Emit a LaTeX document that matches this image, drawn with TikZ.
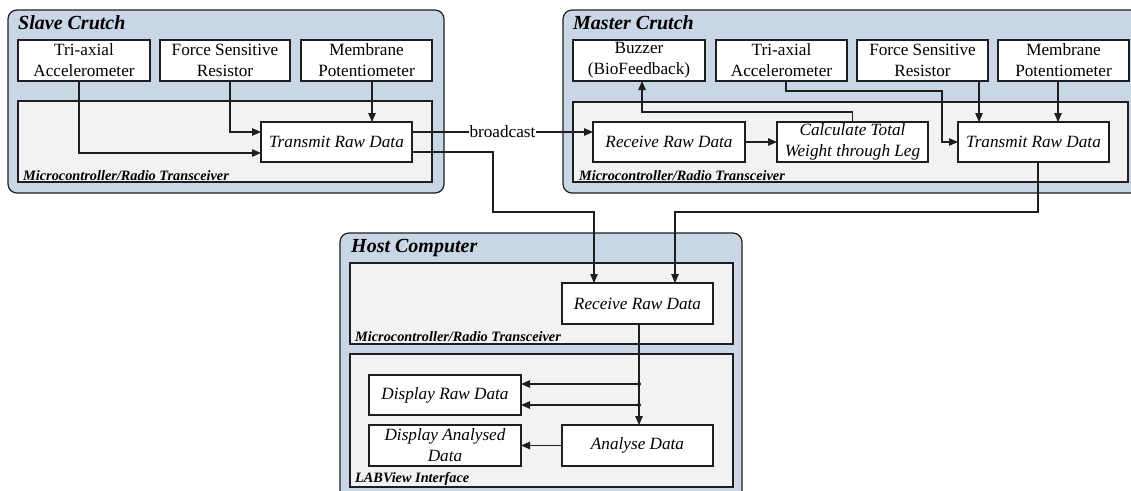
\documentclass[tikz,border=0pt]{standalone}
\usepackage{fontspec}
\setmainfont{Liberation Serif}
\usetikzlibrary{arrows.meta,calc}
\definecolor{outerblue}{RGB}{201,214,230}
\definecolor{innergray}{RGB}{242,242,242}
\definecolor{ln}{RGB}{30,30,30}
\tikzset{
 outerbox/.style={draw=ln, line width=1.2pt, rounded corners=9pt, fill=outerblue, anchor=north west, inner sep=0pt, outer sep=0pt},
 innerbox/.style={draw=ln, line width=1.1pt, fill=innergray, anchor=north west, inner sep=0pt, outer sep=0pt},
 blk/.style={draw=ln, line width=1.1pt, fill=white, anchor=north west, inner sep=0pt, outer sep=0pt, align=center, font=\fontsize{17.2}{21}\selectfont},
 blki/.style={blk, font=\fontsize{17.2}{21}\selectfont\itshape},
 grptitle/.style={anchor=base west, inner sep=0pt, font=\fontsize{20}{24}\selectfont\bfseries\itshape},
 sublabel/.style={anchor=base west, inner sep=0pt, font=\fontsize{14.3}{16}\selectfont\bfseries\itshape},
 arr/.style={draw=ln, line width=1.1pt, -{Triangle[length=9pt,width=7.5pt]}},
 wire/.style={draw=ln, line width=1.1pt},
}
\begin{document}
\begin{tikzpicture}[x=1pt,y=-1pt]
\useasboundingbox (0,0) rectangle (1131,490);
\clip (0,0) rectangle (1131,490);
% ---------- Slave Crutch ----------
\node[outerbox, minimum width=436pt, minimum height=183pt] (slave) at (8,10) {};
\node[grptitle] (slavet) at (18,29) {Slave Crutch};
\node[blk, minimum width=132pt, minimum height=41pt] (stri) at (18,40) {Tri-axial\\Accelerometer};
\node[blk, minimum width=130pt, minimum height=41pt] (sforce) at (160,40) {Force Sensitive\\Resistor};
\node[blk, minimum width=131pt, minimum height=41pt] (smem) at (301,40) {Membrane\\Potentiometer};
\node[innerbox, minimum width=414pt, minimum height=81pt] (smicro) at (18,101) {};
\node[sublabel] (smicrot) at (23,180) {Microcontroller/Radio Transceiver};
\node[blki, minimum width=151pt, minimum height=40pt] (stx) at (261,122) {Transmit Raw Data};
% ---------- Master Crutch ----------
\node[outerbox, minimum width=580pt, minimum height=183pt] (master) at (563,10) {};
\node[grptitle] (mastert) at (573,29) {Master Crutch};
\node[blk, minimum width=132pt, minimum height=41pt] (mbuz) at (573,40) {Buzzer\\(BioFeedback)};
\node[blk, minimum width=131pt, minimum height=41pt] (mtri) at (716,40) {Tri-axial\\Accelerometer};
\node[blk, minimum width=131pt, minimum height=41pt] (mforce) at (857,40) {Force Sensitive\\Resistor};
\node[blk, minimum width=131pt, minimum height=41pt] (mmem) at (998,40) {Membrane\\Potentiometer};
\node[innerbox, minimum width=555pt, minimum height=80pt] (mmicro) at (573,102) {};
\node[sublabel] (mmicrot) at (579,180) {Microcontroller/Radio Transceiver};
\node[blki, minimum width=152pt, minimum height=40pt] (mrx) at (593,122) {Receive Raw Data};
\node[blki, minimum width=151pt, minimum height=40pt] (mcalc) at (777,122) {Calculate Total\\Weight through Leg};
\node[blki, minimum width=151pt, minimum height=40pt] (mtx) at (958,122) {Transmit Raw Data};
% ---------- Host Computer ----------
\node[outerbox, minimum width=402pt, minimum height=270pt] (host) at (340,233) {};
\node[grptitle] (hostt) at (351,252) {Host Computer};
\node[innerbox, minimum width=383pt, minimum height=81pt] (hmicro) at (350,263) {};
\node[sublabel] (hmicrot) at (355,341) {Microcontroller/Radio Transceiver};
\node[innerbox, minimum width=383pt, minimum height=133pt] (hlab) at (350,354) {};
\node[sublabel] (hlabt) at (355,482) {LABView Interface};
\node[blki, minimum width=151pt, minimum height=41pt] (hrx) at (562,283) {Receive Raw Data};
\node[blki, minimum width=152pt, minimum height=40pt] (hdisp) at (369,375) {Display Raw Data};
\node[blki, minimum width=152pt, minimum height=41pt] (hdispa) at (369,425) {Display Analysed\\Data};
\node[blki, minimum width=151pt, minimum height=41pt] (hana) at (562,425) {Analyse Data};
% ---------- bend points ----------
\coordinate (b1) at (493,212);
\coordinate (b2) at (675,212);
\coordinate (b3) at (642,112);
\coordinate (b4) at (942,91);
\coordinate (d1) at (639,384);
\coordinate (d2) at (639,405);
% ---------- Slave connectors ----------
\draw[arr] ([xshift=-5pt]stri.south) |- ([yshift=-11pt]stx.west);
\draw[arr] ([xshift=5pt]sforce.south) |- ([yshift=10pt]stx.west);
\draw[arr] ([xshift=5.5pt]smem.south) -- ([xshift=5.5pt]smem.south |- stx.north);
% ---------- broadcast ----------
\draw[arr] ([yshift=10pt]stx.east) -- node[fill=white, inner sep=1pt, font=\fontsize{17.2}{21}\selectfont] (bc) {broadcast} ([yshift=10pt]mrx.west);
% ---------- to host ----------
\draw[arr] ([yshift=-10pt]stx.east) -| (b1) -| ([xshift=-43.5pt]hrx.north);
\draw[arr] ([xshift=4.5pt]mtx.south) |- (b2) -- ([xshift=37.5pt]hrx.north);
% ---------- Master connectors ----------
\draw[arr] (mrx.east) -- (mcalc.west);
\draw[arr] (mcalc.north) |- (b3) -- (b3 |- mbuz.south);
\draw[arr] ([xshift=4.5pt]mtri.south) |- (b4) |- (mtx.west);
\draw[arr] ([xshift=56.5pt]mforce.south) -- ([xshift=56.5pt]mforce.south |- mtx.north);
\draw[arr] ([xshift=-5.5pt]mmem.south) -- ([xshift=-5.5pt]mmem.south |- mtx.north);
% ---------- Host connectors ----------
\draw[arr] ([xshift=1.5pt]hrx.south) -- ([xshift=1.5pt]hrx.south |- hana.north);
\fill[ln] (d1) circle (2pt);
\fill[ln] (d2) circle (2pt);
\draw[arr] (d1) -- (d1 -| hdisp.east);
\draw[arr] (d2) -- (d2 -| hdisp.east);
\draw[arr] (hana.west) -- (hdispa.east);
\end{tikzpicture}
\end{document}
